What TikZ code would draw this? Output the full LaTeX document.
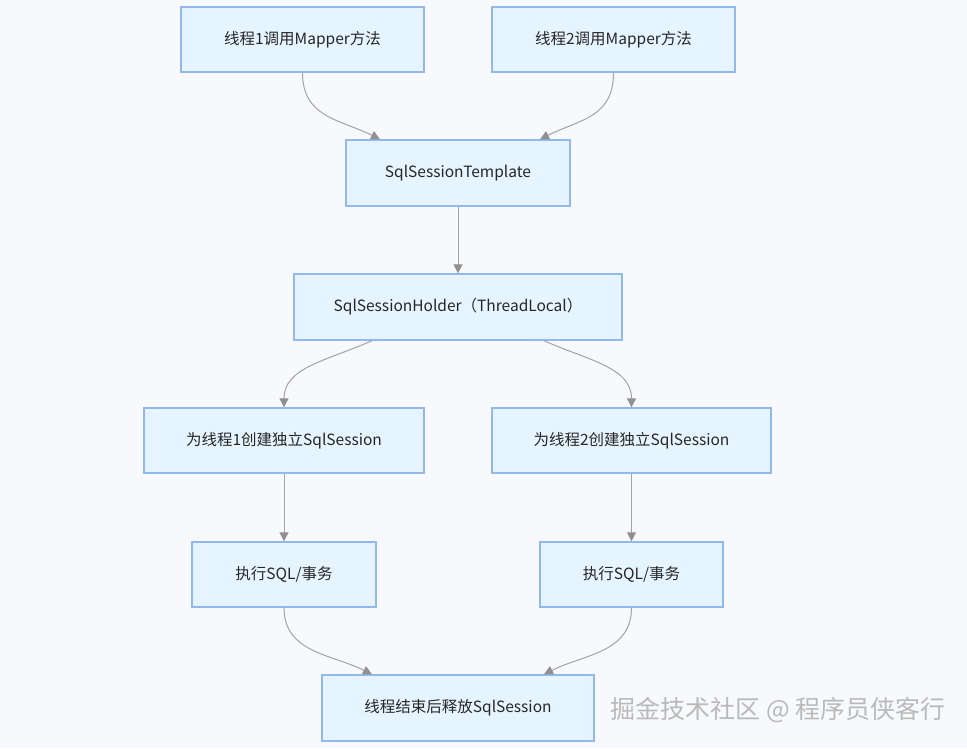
\documentclass[tikz,border=0pt]{standalone}
\usepackage{fontspec}
\setmainfont{Noto Sans CJK SC}
\usetikzlibrary{arrows.meta}
\definecolor{bg}{HTML}{F8F9FC}
\definecolor{boxfill}{HTML}{E6F4FF}
\definecolor{boxline}{HTML}{92B9EC}
\definecolor{edge}{HTML}{A3A3A3}
\definecolor{tip}{HTML}{909090}
\tikzset{
  flowbox/.style={draw=boxline, line width=1.4pt, fill=boxfill, rectangle,
    inner sep=0pt, font=\fontsize{15.5}{18}\selectfont, text=black!85},
  conn/.style={draw=edge, line width=1pt,
    -{Triangle[length=9pt,width=9pt,fill=tip,color=tip]}},
  wmtext/.style={font=\fontsize{25}{28}\selectfont, text=gray!55}
}
\begin{document}
\begin{tikzpicture}[x=1pt,y=-1pt]
\fill[bg] (0,0) rectangle (967,748);
\useasboundingbox (0,0) rectangle (967,748);

\node[flowbox, minimum width=243pt, minimum height=65pt] (t1) at (302.5,39.5) {线程1调用Mapper方法};
\node[flowbox, minimum width=243pt, minimum height=65pt] (t2) at (613.5,39.5) {线程2调用Mapper方法};
\node[flowbox, minimum width=224pt, minimum height=66pt] (tpl) at (458,173) {SqlSessionTemplate};
\node[flowbox, minimum width=328pt, minimum height=66pt] (hold) at (458,307) {SqlSessionHolder（ThreadLocal）};
\node[flowbox, minimum width=280pt, minimum height=65pt] (c1) at (284,440.5) {为线程1创建独立SqlSession};
\node[flowbox, minimum width=279pt, minimum height=65pt] (c2) at (631.5,440.5) {为线程2创建独立SqlSession};
\node[flowbox, minimum width=184pt, minimum height=65pt] (e1) at (284,574.5) {执行SQL/事务};
\node[flowbox, minimum width=183pt, minimum height=65pt] (e2) at (631.5,574.5) {执行SQL/事务};
\node[flowbox, minimum width=272pt, minimum height=66pt] (rel) at (458,708) {线程结束后释放SqlSession};

\node[wmtext] (wm) at (778,710) {掘金技术社区 @ 程序员侠客行};

\draw[conn] (t1.south) .. controls +(0,45) and +(-40,-20) .. ([xshift=-78pt]tpl.north);
\draw[conn] (t2.south) .. controls +(0,45) and +(40,-20) .. ([xshift=82pt]tpl.north);
\draw[conn] (tpl.south) -- (hold.north);
\draw[conn] ([xshift=-86pt]hold.south) .. controls +(-45,20) and +(0,-40) .. (c1.north);
\draw[conn] ([xshift=86pt]hold.south) .. controls +(45,20) and +(0,-40) .. (c2.north);
\draw[conn] (e1.north |- c1.south) -- (e1.north);
\draw[conn] (e2.north |- c2.south) -- (e2.north);
\draw[conn] (e1.south) .. controls +(0,45) and +(-40,-20) .. ([xshift=-86pt]rel.north);
\draw[conn] (e2.south) .. controls +(0,45) and +(40,-20) .. ([xshift=86pt]rel.north);
\end{tikzpicture}
\end{document}
